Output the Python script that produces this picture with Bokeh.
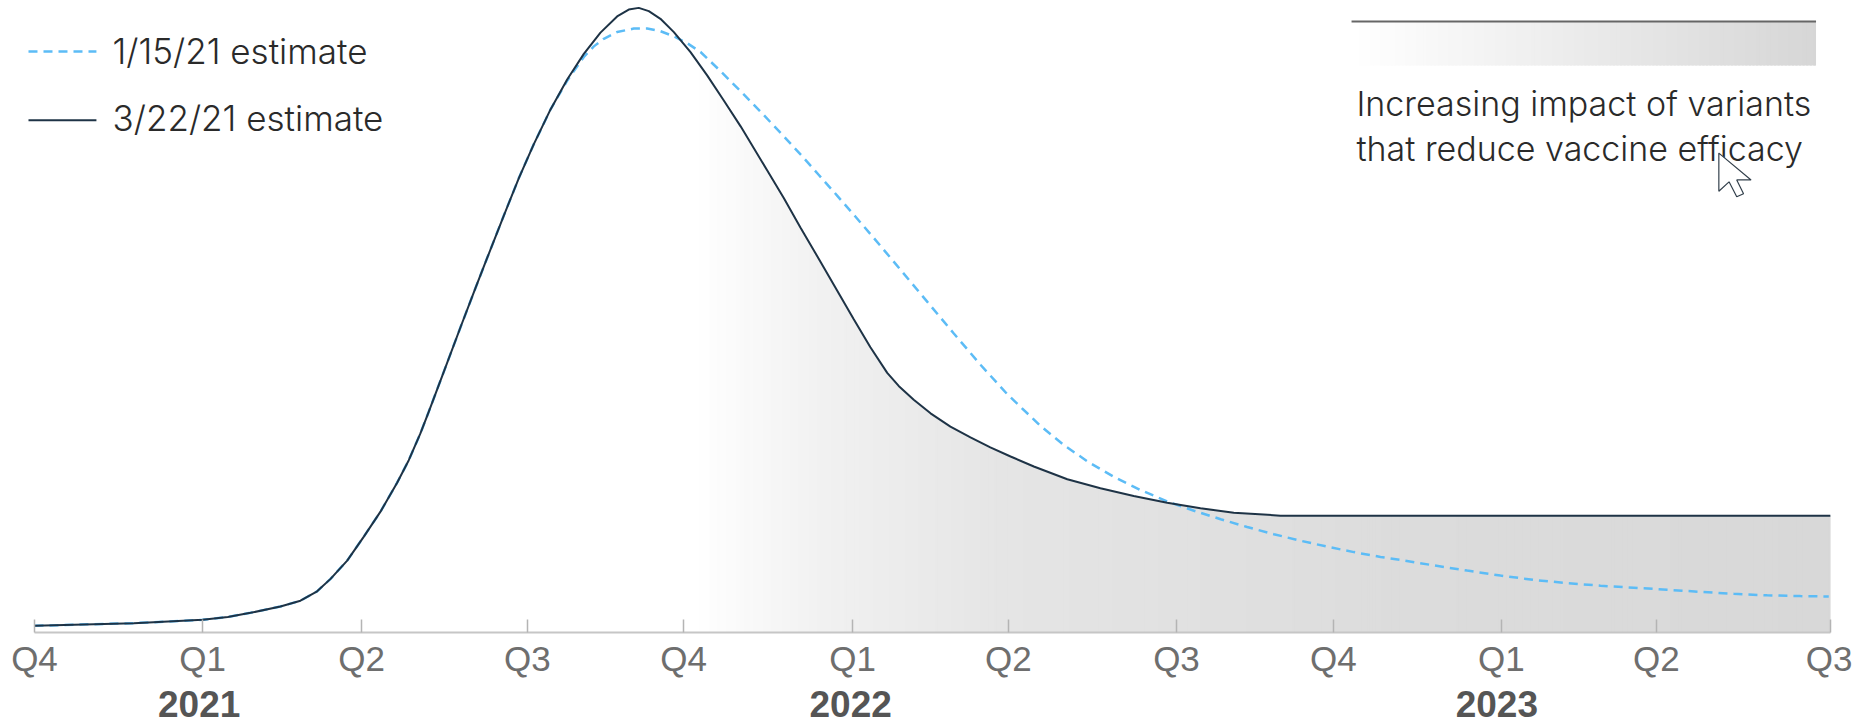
import numpy as np
from bokeh.plotting import figure
from bokeh.models import LinearAxis, FixedTicker, Range1d
from bokeh.core.properties import value
from bokeh.embed import file_html
from bokeh.resources import INLINE

# x unit: days since start of Q4 2020; y unit: percent of peak
tick_days = [0, 93.9, 182.7, 275.4, 362.6, 457, 544.1, 638, 725.7, 819.5, 906.1, 1003.3]
tick_labels = ["Q4", "Q1", "Q2", "Q3", "Q4", "Q1", "Q2", "Q3", "Q4", "Q1", "Q2", "Q3"]
year_days = [92, 456, 817]
year_labels = ["2021", "2022", "2023"]

black_x = [0, 55.5, 93.9, 108, 120.7, 137.4, 148.6, 157.9, 165.4, 174.7, 184, 193.3, 202.6, 209.1, 215.6,
           220.3, 228.7, 238, 246.4, 252.9, 262.2, 270.6, 278.9, 288.3, 297.6, 306.9, 316.2, 325.5,
           332, 337.6, 343.2, 349.7, 357.2, 366.5, 375.8, 385.1, 394.5, 409.3, 418.6, 427.9, 439.1,
           448.4, 457.7, 467, 476.4, 482.8, 491.2, 500.6, 511.7, 522.9, 534, 545.3, 558.3, 577,
           595.5, 614.1, 632.8, 651.4, 670, 696.1, 1003.3]
black_y = [1.07, 1.5, 2.03, 2.5, 3.15, 4.16, 5.1, 6.6, 8.59, 11.52, 15.36, 19.36, 24.0, 27.6, 31.9,
           35.4, 41.8, 48.9, 55.2, 60.0, 66.8, 72.8, 78.2, 83.8, 88.6, 92.7, 96.1, 98.7,
           99.8, 100.07, 99.54, 98.32, 96.18, 92.98, 89.25, 85.24, 81.09, 74.05, 69.6, 64.9, 59.4,
           54.8, 50.2, 45.7, 41.6, 39.5, 37.3, 35.11, 32.97, 31.27, 29.67, 28.2, 26.6, 24.55,
           23.11, 21.88, 20.8, 19.9, 19.2, 18.72, 18.7]

blue_x = [0, 55.5, 93.9, 108, 120.7, 137.4, 148.6, 157.9, 165.4, 174.7, 184, 193.3, 202.6, 209.1, 215.6,
          220.3, 228.7, 238, 246.4, 252.9, 262.2, 270.6, 278.9, 288.3, 297.6, 306.9, 312.5, 318.1,
          325.5, 334.8, 342.3, 349.7, 357.2, 364.7, 372.1, 383.2, 395.4, 407.4, 418.6, 428.9, 438.2,
          448.4, 458.7, 468.9, 479.2, 498.7, 513.6, 528.5, 543.4, 562, 575.2, 588.3, 603.2, 618.1,
          632.9, 647.8, 662.7, 677.5, 692.4, 707.3, 722.2, 737.1, 752, 763.1, 781.7, 800.4, 819,
          837.6, 856.3, 874.9, 893.5, 912.1, 930.7, 949.4, 968, 986.6, 1002.4]
blue_y = [1.07, 1.5, 2.03, 2.5, 3.15, 4.16, 5.1, 6.6, 8.59, 11.52, 15.36, 19.36, 24.0, 27.6, 31.9,
          35.4, 41.8, 48.9, 55.2, 60.0, 66.8, 72.8, 78.2, 83.8, 88.4, 92.2, 93.9, 95.12,
          96.2, 96.75, 96.75, 96.33, 95.5, 94.4, 93.0, 89.95, 86.45, 82.9, 79.5, 76.3, 73.3,
          70.0, 66.6, 63.2, 59.7, 53.0, 47.9, 42.9, 38.2, 33.1, 30.0, 27.4, 24.9, 22.8,
          21.0, 19.5, 18.15, 16.9, 15.75, 14.7, 13.75, 12.88, 12.1, 11.63, 10.75, 9.92, 9.12,
          8.43, 7.91, 7.5, 7.17, 6.85, 6.51, 6.19, 5.95, 5.83, 5.76]

series_names = ["1/15/21 estimate", "3/22/21 estimate"]
note_lines = ["Increasing impact of variants", "that reduce vaccine efficacy"]

grad_days = [368, 439, 540, 763, 1003.3]
grad_grey = [255, 241, 229, 220, 216]

BLUE = "#5cbcf6"
NAVY = "#1e3346"
FONT = "Inter Light"
TICK_FONT = "Liberation Sans"


def grey(v):
    v = int(round(v))
    return "#%02x%02x%02x" % (v, v, v)


def strips(x0, x1, step):
    """Left/right edges of the overlapping strips that make a horizontal gradient."""
    left = np.arange(x0, x1, step)
    right = np.minimum(left + step * 1.6, x1)
    return left, right


p = figure(width=1852, height=723, output_backend="svg", toolbar_location=None,
           x_axis_type=None, y_axis_type=None,
           x_range=Range1d(-18.99, 1015.67), y_range=Range1d(0, 101.25),
           min_border_left=0, min_border_right=0, min_border_top=0, min_border_bottom=91)
p.outline_line_color = None
p.grid.visible = False
p.background_fill_color = "white"

# area gradient under the latest estimate
lft, rgt = strips(368, 1003.3, 1.5)
ltop = np.interp(lft, black_x, black_y)
rtop = np.interp(rgt, black_x, black_y)
xs = [[a, b, b, a] for a, b in zip(lft, rgt)]
ys = [[0, 0, c, d] for c, d in zip(rtop, ltop)]
gcol = [grey(v) for v in np.interp(lft, grad_days, grad_grey)]
p.patches(xs, ys, fill_color=gcol, line_color=None)

# series
p.line(blue_x, blue_y, line_color=BLUE, line_width=2.5, line_dash="9 6")
p.line(black_x, black_y, line_color=NAVY, line_width=2)

# legend
p.line([-3.35, 34.6], [93.09, 93.09], line_color=BLUE, line_width=2.5, line_dash="9 6")
p.line([-3.35, 34.6], [82.05, 82.05], line_color=NAVY, line_width=2)
p.text([43.6, 43.6], [93.2, 82.46], text=series_names, text_font=value(FONT), text_font_size="35px",
       text_color="#2a2a2a", text_baseline="alphabetic", text_align="left")

# gradient key
kl, kr = strips(735.8, 995.3, 2.0)
kcol = [grey(v) for v in np.interp(kl, [735.8, 995.3], [255, 214])]
p.quad(left=kl, right=kr, bottom=90.84, top=97.9, fill_color=kcol, line_color=None)
p.line([735.8, 995.3], [97.9, 97.9], line_color="#666666", line_width=2)
p.text([738.5, 738.5], [84.8, 77.6], text=note_lines, text_font=value(FONT), text_font_size="34px",
       text_color="#2a2a2a", text_baseline="alphabetic", text_align="left")

# mouse pointer present in the picture
cursor_x = [941, 941, 946.7, 951, 954.8, 951, 959]
cursor_y = [76.8, 70.7, 72.2, 69.8, 70.3, 72.5, 72.5]
p.patch(cursor_x, cursor_y, fill_color="white", line_color="#33404c", line_width=1.2)

# axes
ax = LinearAxis(ticker=FixedTicker(ticks=tick_days),
                major_label_overrides=dict(zip(tick_days, tick_labels)),
                bounds=(0, 1003.3))
ax.axis_line_color = "#c6c6c6"
ax.axis_line_width = 2
ax.major_tick_in = 13
ax.major_tick_out = 0
ax.major_tick_line_color = "#b4b4b4"
ax.major_tick_line_width = 1.5
ax.minor_tick_line_color = None
ax.major_label_text_font = TICK_FONT
ax.major_label_text_font_size = "35px"
ax.major_label_text_color = "#6e6e6e"
ax.major_label_standoff = 6
p.add_layout(ax, "below")

ay = LinearAxis(ticker=FixedTicker(ticks=year_days),
                major_label_overrides=dict(zip(year_days, year_labels)))
ay.axis_line_color = None
ay.major_tick_line_color = None
ay.minor_tick_line_color = None
ay.major_label_text_font = TICK_FONT
ay.major_label_text_font_style = "bold"
ay.major_label_text_font_size = "37px"
ay.major_label_text_color = "#555555"
ay.major_label_standoff = 4
p.add_layout(ay, "below")

open("out.html", "w").write(file_html(p, INLINE))
